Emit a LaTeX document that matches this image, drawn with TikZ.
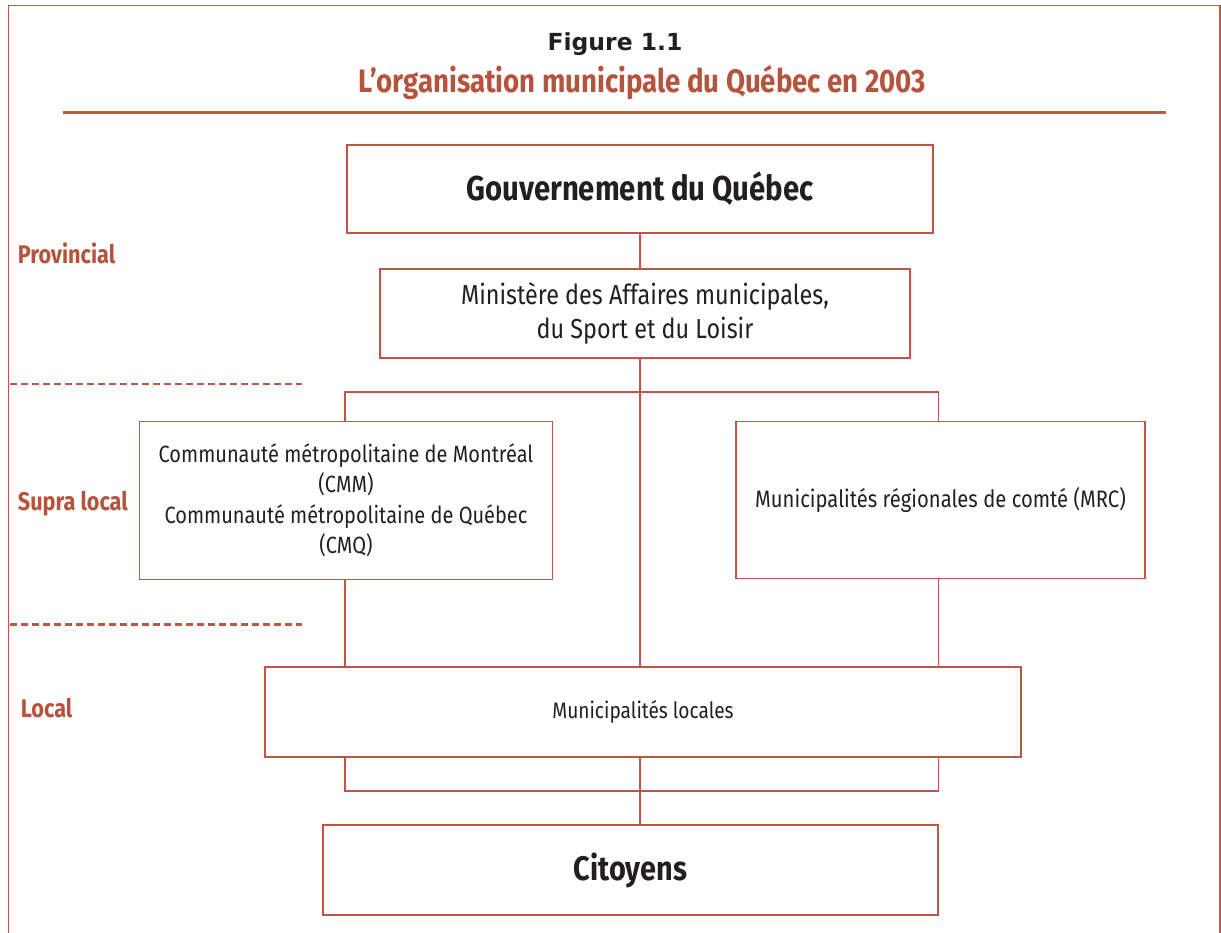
\documentclass[tikz,border=0pt]{standalone}
\usepackage{fontspec}
\setmainfont{Fira Sans}[FakeStretch=0.85]
\newfontfamily\figfont{DejaVu Sans}
\definecolor{frame}{RGB}{192,84,70}
\definecolor{lbl}{RGB}{181,83,60}
\definecolor{ink}{RGB}{35,31,32}
\tikzset{
  orgbox/.style={draw=frame,line width=1.6pt,rectangle,inner sep=0pt,align=center,text=ink},
  link/.style={draw=frame,line width=1.3pt},
  level/.style={anchor=base west,text=lbl,font=\fontsize{25.5}{30}\selectfont\bfseries,inner sep=0pt},
  sep/.style={draw=frame,line width=2.6pt,dash pattern=on 7pt off 4pt},
}
\begin{document}
\begin{tikzpicture}[x=1pt,y=-1pt]
\useasboundingbox (0,0) rectangle (1221,933);
% frame
\draw[frame,line width=1.6pt] (8.5,933) -- (8.5,5.5) -- (1220,5.5) -- (1220,933);
% title
\node[anchor=base,inner sep=0pt,text=ink,font=\figfont\fontsize{23.5}{26}\selectfont\bfseries] (fig) at (615,50.7) {Figure 1.1};
\node[anchor=base,inner sep=0pt,text=lbl,font=\fontsize{32.5}{36}\selectfont\bfseries] (title) at (642.5,92.7) {L’organisation municipale du Québec en 2003};
\coordinate (r1) at (63,112.5);
\coordinate (r2) at (1166,112.5);
\draw[frame,line width=2.6pt] (r1) -- (r2);
% boxes
\node[orgbox,minimum width=586pt,minimum height=88pt,font=\fontsize{34.5}{38}\selectfont\bfseries] (gouv) at (640,189) {Gouvernement du Québec};
\node[orgbox,minimum width=530pt,minimum height=89pt,font=\fontsize{27.5}{34.5}\selectfont] (min) at (645,313.5) {Ministère des Affaires municipales,\\du Sport et du Loisir};
\node[orgbox,minimum width=413pt,minimum height=158pt,font=\fontsize{23.5}{30.5}\selectfont] (cmm) at (346,500.5) {Communauté métropolitaine de Montréal\\(CMM)\\Communauté métropolitaine de Québec\\(CMQ)};
\node[orgbox,minimum width=409pt,minimum height=157pt,font=\fontsize{23.8}{31}\selectfont] (mrc) at (940.5,500) {Municipalités régionales de comté (MRC)};
\node[orgbox,minimum width=756pt,minimum height=90pt,font=\fontsize{22.5}{26}\selectfont] (loc) at (643,712) {Municipalités locales};
\node[orgbox,minimum width=615pt,minimum height=90pt,font=\fontsize{34}{40}\selectfont\bfseries] (cit) at (630.5,870) {Citoyens};
% level labels
\node[level] (prov) at (17.7,264) {Provincial};
\node[level] (supra) at (17.7,510) {Supra local};
\node[level] (local) at (20.7,717.3) {Local};
\coordinate (d1a) at (10,384);
\coordinate (d1b) at (302,384);
\coordinate (d2a) at (10,624.5);
\coordinate (d2b) at (302,624.5);
\draw[sep] (d1a) -- (d1b);
\draw[sep] (d2a) -- (d2b);
% connectors
\coordinate (busL) at (345,392);
\coordinate (busC) at (640,392);
\coordinate (busR) at (938.5,392);
\coordinate (lowL) at (345,791);
\coordinate (lowC) at (640,791);
\coordinate (lowR) at (938.5,791);
\draw[link] (gouv.south) -- (gouv.south |- min.north);
\draw[link] (min.south -| busC) -- (loc.north -| busC);
\draw[link] (busL |- cmm.north) -- (busL) -- (busR) -- (busR |- mrc.north);
\draw[link] (cmm.south -| busL) -- (loc.north -| busL);
\draw[link] (mrc.south -| busR) -- (loc.north -| busR);
\draw[link] (loc.south -| lowL) -- (lowL) -- (lowR) -- (loc.south -| lowR);
\draw[link] (loc.south -| lowC) -- (cit.north -| lowC);
\end{tikzpicture}
\end{document}
